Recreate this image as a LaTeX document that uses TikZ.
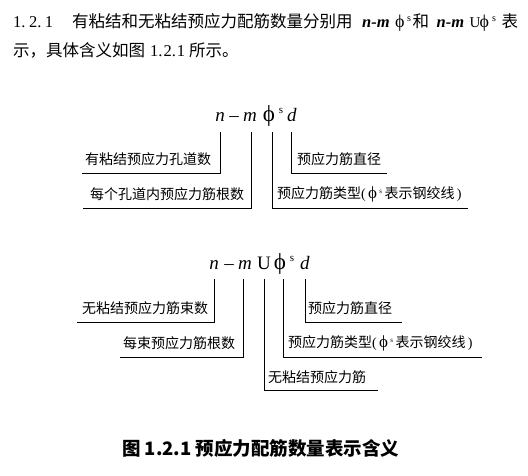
\documentclass[tikz,border=0pt]{standalone}
\usepackage{fontspec}
\setmainfont{Liberation Serif}
\newfontfamily\zh{Noto Sans CJK SC}
\usetikzlibrary{positioning}
\newcommand\bigphi[1]{{\fontsize{#1}{#1}\selectfont ϕ}}
\newcommand\spreadnum[1]{\makebox[#1]{1.\hfill2.\hfill1}}
\newcommand\nminus{\textbf{\textit{n-m}}}
\newcommand\supS{\raisebox{6pt}{\fontsize{10}{10}\selectfont s}}
\tikzset{
  sym/.style={anchor=base, inner sep=0pt, font=\fontsize{19}{19}\selectfont},
  sup/.style={anchor=base, inner sep=0pt, font=\fontsize{11}{11}\selectfont},
  lab/.style={anchor=west, inner sep=0pt, font=\fontsize{14}{14}\selectfont\zh},
  para/.style={anchor=west, inner sep=0pt, font=\fontsize{16.5}{16.5}\selectfont},
  lead/.style={line width=0.8pt},
}

\begin{document}
\begin{tikzpicture}[x=1pt, y=-1pt]
\useasboundingbox (0,0) rectangle (528,475);

% intro text
\node (p1) [para] at (13,22) {\makebox[59pt][l]{\spreadnum{40pt}}{\zh 有粘结和无粘结预应力配筋数量分别用}\hspace{9.5pt}\makebox[33pt][l]{\nminus}\makebox[12pt][l]{\bigphi{18}}\makebox[5.5pt][l]{\supS}{\zh 和}\hspace{7.5pt}\makebox[33pt][l]{\nminus}\makebox[10pt][l]{\fontsize{15}{15}\selectfont U}\makebox[12.5pt][l]{\bigphi{18}}\makebox[9.5pt][l]{\supS}{\zh 表}};
\node (p2) [para] at (13,50) {{\zh 示，具体含义如图}\hspace{5pt}\spreadnum{35pt}\hspace{4pt}{\zh 所示。}};

% bonded: n-m phi^s d
\node (an) [sym] at (220,121) {\textit{n}};
\node (amin) [sym] at (234,121) {\textendash};
\node (am) [sym] at (250,121) {\textit{m}};
\node (aphi) [sym, font=\fontsize{23}{23}\selectfont] at (269,121) {ϕ};
\node (as) [sup] at (281,113) {s};
\node (ad) [sym] at (292,121) {\textit{d}};

\node (a1) [lab] at (85,159) {有粘结预应力孔道数};
\node (a2) [lab] at (90,194) {每个孔道内预应力筋根数};
\node (a3) [lab] at (277,194) {预应力筋类型{\rmfamily (\,\bigphi{17}\,\raisebox{5pt}{\scriptsize s}\,}表示钢绞线{\rmfamily\,)}};
\node (a4) [lab] at (297,159) {预应力筋直径};

\coordinate (ea1) at (82,173);
\coordinate (ea2) at (83,208);
\coordinate (ea3) at (468,208);
\coordinate (ea4) at (387,173);

\draw [lead] ([yshift=-11pt]an.base) |- (ea1);
\draw [lead] ([xshift=1pt,yshift=-11pt]am.base) |- (ea2);
\draw [lead] ([xshift=3pt,yshift=-11pt]aphi.base) |- (ea3);
\draw [lead] ([xshift=-1pt,yshift=-11pt]ad.base) |- (ea4);

% unbonded: n-m U phi^s d
\node (bn) [sym] at (214,269) {\textit{n}};
\node (bmin) [sym] at (229,269) {\textendash};
\node (bm) [sym] at (245,269) {\textit{m}};
\node (bu) [sym] at (264,269) {U};
\node (bphi) [sym, font=\fontsize{23}{23}\selectfont] at (280,269) {ϕ};
\node (bs) [sup] at (292,261) {s};
\node (bd) [sym] at (305,269) {\textit{d}};

\node (b1) [lab] at (82,308) {无粘结预应力筋束数};
\node (b2) [lab] at (123,343) {每束预应力筋根数};
\node (b3) [lab] at (268,377) {无粘结预应力筋};
\node (b4) [lab] at (288,343) {预应力筋类型{\rmfamily (\,\bigphi{17}\,\raisebox{5pt}{\scriptsize s}\,}表示钢绞线{\rmfamily\,)}};
\node (b5) [lab] at (308,308) {预应力筋直径};

\coordinate (eb1) at (77,322);
\coordinate (eb2) at (120,357);
\coordinate (eb3) at (378,390);
\coordinate (eb4) at (482,357);
\coordinate (eb5) at (402,322);

\draw [lead] ([yshift=-10pt]bn.base) |- (eb1);
\draw [lead] ([xshift=-2pt,yshift=-10pt]bm.base) |- (eb2);
\draw [lead] ([yshift=-10pt]bu.base) |- (eb3);
\draw [lead] ([xshift=3pt,yshift=-10pt]bphi.base) |- (eb4);
\draw [lead] ([yshift=-10pt]bd.base) |- (eb5);

% caption
\node (cap) [anchor=west, inner sep=0pt, font=\fontsize{18.5}{18.5}\selectfont\zh\bfseries] at (122,448) {图 1.2.1 预应力配筋数量表示含义};
\end{tikzpicture}
\end{document}
